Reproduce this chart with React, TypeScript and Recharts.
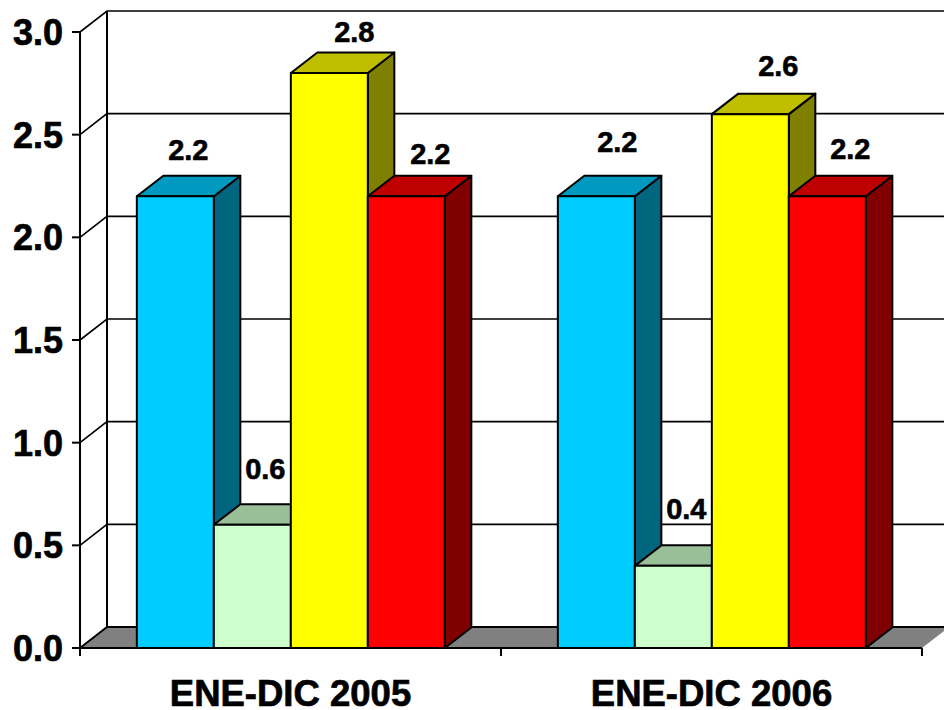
import { BarChart, Bar, XAxis, YAxis, CartesianGrid, LabelList } from "recharts";

const categories = ["ENE-DIC 2005", "ENE-DIC 2006"];
const blueValues = [2.2, 2.2];
const greenValues = [0.6, 0.4];
const yellowValues = [2.8, 2.6];
const redValues = [2.2, 2.2];
const yTicks = [0, 0.5, 1, 1.5, 2, 2.5, 3];

const data = categories.map((name, i) => ({
  name,
  blue: blueValues[i],
  green: greenValues[i],
  yellow: yellowValues[i],
  red: redValues[i],
}));

// depth of the fake 3D box
const DX = 26.5;
const DY = 20.5;
const FONT = "'Liberation Sans', Arial, sans-serif";

const series = [
  { key: "blue", front: "#00CCFF", top: "#0099BF", side: "#006680", nudgeX: [13, 21], nudgeY: [36, 44] },
  { key: "green", front: "#CCFFCC", top: "#99BF99", side: "#668066", nudgeX: [13, 13], nudgeY: [46, 47] },
  { key: "yellow", front: "#FFFF00", top: "#BFBF00", side: "#808000", nudgeX: [25, 28], nudgeY: [31, 38] },
  { key: "red", front: "#FF0000", top: "#BF0000", side: "#800000", nudgeX: [24, 23], nudgeY: [32, 37] },
];

function Box3D(props: any) {
  const { x, y, width, height, front, top, side } = props;
  const r = x + width;
  const b = y + height;
  return (
    <g stroke="#000" strokeWidth={2} strokeLinejoin="round">
      <polygon points={`${r},${y} ${r + DX},${y - DY} ${r + DX},${b - DY} ${r},${b}`} fill={side} />
      <polygon points={`${x},${y} ${x + DX},${y - DY} ${r + DX},${y - DY} ${r},${y}`} fill={top} />
      <rect x={x} y={y} width={width} height={height} fill={front} />
    </g>
  );
}

function wallLine(props: any) {
  const { x1, x2, y1, index } = props;
  const isFloor = y1 > 640;
  return (
    <g key={`wall-${index}`}>
      {isFloor && (
        <polygon
          points={`${x1},${y1} ${x1 + 27},${y1 - 21} ${x2 + 27},${y1 - 21} ${x2},${y1}`}
          fill="#808080"
        />
      )}
      <polyline
        points={`${x1},${y1} ${x1 + 27},${y1 - 21} ${x2 + 27},${y1 - 21}`}
        fill="none"
        stroke="#000"
        strokeWidth={isFloor ? 2 : 1.6}
      />
      {isFloor && (
        <line x1={x1 + 27} y1={y1 - 21} x2={x1 + 27} y2={y1 - 21 - 616} stroke="#000" strokeWidth={2} />
      )}
    </g>
  );
}

function CategoryTick(props: any) {
  const { x, y, width, payload, index } = props;
  const band = width / categories.length;
  const left = x - band / 2;
  return (
    <g>
      <line x1={left} y1={y - 8} x2={left} y2={y} stroke="#000" strokeWidth={2} />
      {index === categories.length - 1 && (
        <line x1={left + band} y1={y - 8} x2={left + band} y2={y} stroke="#000" strokeWidth={2} />
      )}
      <text
        x={x}
        y={706}
        textAnchor="middle"
        fontFamily={FONT}
        fontWeight={700}
        fontSize={36.5}
        fill="#000"
        stroke="#000"
        strokeWidth={0.7}
      >
        {payload.value}
      </text>
    </g>
  );
}

function ValueTick(props: any) {
  const { x, y, payload } = props;
  return (
    <text
      x={x - 7}
      y={y + 13}
      textAnchor="end"
      fontFamily={FONT}
      fontWeight={700}
      fontSize={36}
      fill="#000"
      stroke="#000"
      strokeWidth={0.7}
    >
      {payload.value.toFixed(1)}
    </text>
  );
}

export default function App() {
  return (
    <div style={{ position: "absolute", left: 0, top: 0, width: 944, height: 710, background: "#fff" }}>
      <BarChart
        width={944}
        height={710}
        data={data}
        margin={{ top: 32, right: 22, bottom: 0, left: 0 }}
        barGap={0}
        barCategoryGap="13.5%"
      >
        <CartesianGrid horizontal={wallLine} vertical={false} />
        <XAxis
          dataKey="name"
          height={62}
          tickLine={false}
          tick={CategoryTick}
          interval={0}
          axisLine={{ stroke: "#000", strokeWidth: 2 }}
        />
        <YAxis
          domain={[0, 3]}
          ticks={yTicks}
          width={80}
          tickSize={8}
          tickLine={{ stroke: "#000", strokeWidth: 2 }}
          tick={ValueTick}
          axisLine={{ stroke: "#000", strokeWidth: 2 }}
          interval={0}
        />
        {series.map((s) => (
          <Bar
            key={s.key}
            dataKey={s.key}
            isAnimationActive={false}
            shape={(p: any) => <Box3D {...p} front={s.front} top={s.top} side={s.side} />}
          >
            <LabelList
              dataKey={s.key}
              content={(p: any) => (
                <text
                  x={p.x + p.width / 2 + s.nudgeX[p.index]}
                  y={p.y - s.nudgeY[p.index]}
                  textAnchor="middle"
                  fontFamily={FONT}
                  fontWeight={700}
                  fontSize={29}
                  fill="#000"
                  stroke="#000"
                  strokeWidth={0.6}
                >
                  {p.value.toFixed(1)}
                </text>
              )}
            />
          </Bar>
        ))}
      </BarChart>
    </div>
  );
}
